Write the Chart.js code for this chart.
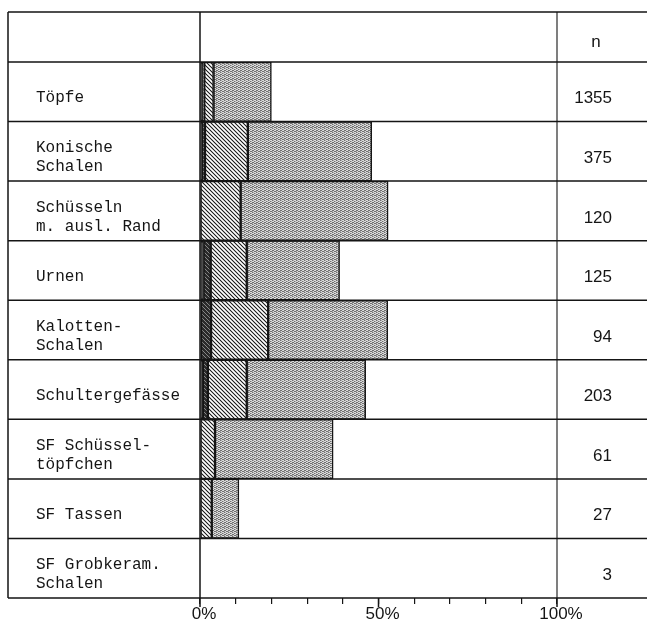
<!DOCTYPE html>
<html>
<head>
<meta charset="utf-8">
<script src="https://cdn.jsdelivr.net/npm/chart.js@4.4.1/dist/chart.umd.min.js"></script>
<style>
  html, body { margin: 0; padding: 0; background: #fff; }
  #wrap { width: 647px; height: 621px; position: relative; }
</style>
</head>
<body>
<div id="wrap"><canvas id="chart"></canvas></div>
<script>
// ---- Daten (Anteile in %, von links nach rechts gestapelt) ----
const kategorien = [
  ['Töpfe'],
  ['Konische', 'Schalen'],
  ['Schüsseln', 'm. ausl. Rand'],
  ['Urnen'],
  ['Kalotten-', 'Schalen'],
  ['Schultergefässe'],
  ['SF Schüssel-', 'töpfchen'],
  ['SF Tassen'],
  ['SF Grobkeram.', 'Schalen']
];
const anzahl    = ['1355', '375', '120', '125', '94', '203', '61', '27', '3'];
const schwarz   = [0.6, 0.5, 0,    1.0,  0.3,  0.8,  0,    0,   0];
const dicht     = [0.6, 0.9, 0,    2.0,  2.8,  1.4,  0,    0,   0];
const schraffur = [2.6, 12.0, 11.4, 10.1, 16.0, 10.9, 4.2,  3.3, 0];
const punkte    = [16.2, 34.7, 41.3, 26.0, 33.5, 33.3, 33.1, 7.6, 0];
const achsenTicks = [0, 50, 100];

const INK = '#151515';
const canvas = document.getElementById('chart');
const ctx = canvas.getContext('2d');

// ---- Füllmuster ----
function muster(size, draw) {
  const tile = document.createElement('canvas');
  tile.width = tile.height = size;
  draw(tile.getContext('2d'), size);
  return ctx.createPattern(tile, 'repeat');
}
function diagonalen(g, s, farbe, breite) {
  g.strokeStyle = farbe;
  g.lineWidth = breite;
  g.beginPath();
  for (let o = -s; o <= s; o += s) {
    g.moveTo(o - 1, -1);
    g.lineTo(o + s + 1, s + 1);
  }
  g.stroke();
}
const SCHRAFFUR = muster(4, (g, s) => {
  g.fillStyle = '#fff'; g.fillRect(0, 0, s, s);
  diagonalen(g, s, INK, 1.05);
});
const DICHT = muster(4, (g, s) => {
  g.fillStyle = '#2a2a2a'; g.fillRect(0, 0, s, s);
  diagonalen(g, s, '#a0a0a0', 0.8);
});
const PUNKTE = muster(4, (g) => {
  g.fillStyle = '#dcdcdc'; g.fillRect(0, 0, 4, 4);
  g.fillStyle = '#707070';
  [[0, 0], [2, 1], [1, 2], [3, 3], [2, 3], [0, 2]].forEach(([a, b]) => g.fillRect(a, b, 1, 1));
  g.fillStyle = '#a8a8a8';
  [[1, 0], [3, 1], [0, 3]].forEach(([a, b]) => g.fillRect(a, b, 1, 1));
});

function reihe(label, data, fill) {
  return {
    label, data,
    backgroundColor: fill,
    borderColor: INK,
    borderWidth: 1.5,
    borderSkipped: false,
    barPercentage: 1,
    categoryPercentage: 1
  };
}

// ---- Tabellenrahmen ----
const tabelle = {
  id: 'tabelle',
  afterDatasetsDraw(chart) {
    const { ctx, scales: { x, y } } = chart;
    const links = 8, rechts = chart.width, oben = 12;
    const unten = y.getPixelForValue(kategorien.length - 0.5);
    ctx.save();
    ctx.strokeStyle = INK;
    ctx.lineWidth = 1.5;
    ctx.beginPath();
    ctx.moveTo(links, oben); ctx.lineTo(rechts, oben);
    for (let i = 0; i <= kategorien.length; i++) {
      const py = y.getPixelForValue(i - 0.5);
      ctx.moveTo(links, py); ctx.lineTo(rechts, py);
    }
    [links, x.getPixelForValue(0)].forEach(px => {
      ctx.moveTo(px, oben); ctx.lineTo(px, unten);
    });
    achsenTicks.forEach(v => {
      const px = x.getPixelForValue(v);
      ctx.moveTo(px, unten); ctx.lineTo(px, unten + 9);
    });
    ctx.stroke();
    ctx.lineWidth = 1.1;
    ctx.beginPath();
    const p100 = x.getPixelForValue(100);
    ctx.moveTo(p100, oben); ctx.lineTo(p100, unten);
    ctx.stroke();
    // Kopfzeile "n"
    ctx.fillStyle = INK;
    ctx.font = '17px "Liberation Sans"';
    ctx.textAlign = 'center';
    ctx.textBaseline = 'middle';
    ctx.fillText('n', x.right + 39, (oben + y.top) / 2 + 5);
    ctx.restore();
  }
};

new Chart(canvas, {
  type: 'bar',
  data: {
    labels: kategorien,
    datasets: [
      reihe('schwarz', schwarz, INK),
      reihe('dicht', dicht, DICHT),
      reihe('schraffiert', schraffur, SCHRAFFUR),
      reihe('punktiert', punkte, PUNKTE)
    ]
  },
  options: {
    indexAxis: 'y',
    responsive: true,
    maintainAspectRatio: false,
    animation: false,
    layout: { padding: { top: 62, left: 36, right: 35, bottom: 0 } },
    plugins: {
      legend: { display: false },
      tooltip: { enabled: false }
    },
    scales: {
      x: {
        stacked: true,
        min: 0,
        max: 100,
        position: 'bottom',
        afterFit: s => { s.height = 23; },
        ticks: {
          stepSize: 10,
          autoSkip: false,
          maxRotation: 0,
          padding: 0,
          labelOffset: 4,
          color: INK,
          font: { family: 'Liberation Sans', size: 17 },
          callback: v => achsenTicks.includes(v) ? v + '%' : ''
        },
        grid: { drawOnChartArea: false, drawTicks: true, tickLength: 6, color: INK, lineWidth: 1.2 },
        border: { display: false }
      },
      y: {
        stacked: true,
        position: 'left',
        afterFit: s => { s.width = 164; },
        ticks: {
          crossAlign: 'far',
          labelOffset: 6,
          color: INK,
          font: { family: 'Liberation Mono', size: 16, lineHeight: 1.2 }
        },
        grid: { display: false },
        border: { display: false }
      },
      y2: {
        type: 'category',
        labels: anzahl,
        offset: true,
        position: 'right',
        afterFit: s => { s.width = 55; },
        ticks: {
          crossAlign: 'far',
          labelOffset: 7,
          color: INK,
          font: { family: 'Liberation Sans', size: 17 }
        },
        grid: { display: false },
        border: { display: false }
      }
    }
  },
  plugins: [tabelle]
});
</script>
</body>
</html>
